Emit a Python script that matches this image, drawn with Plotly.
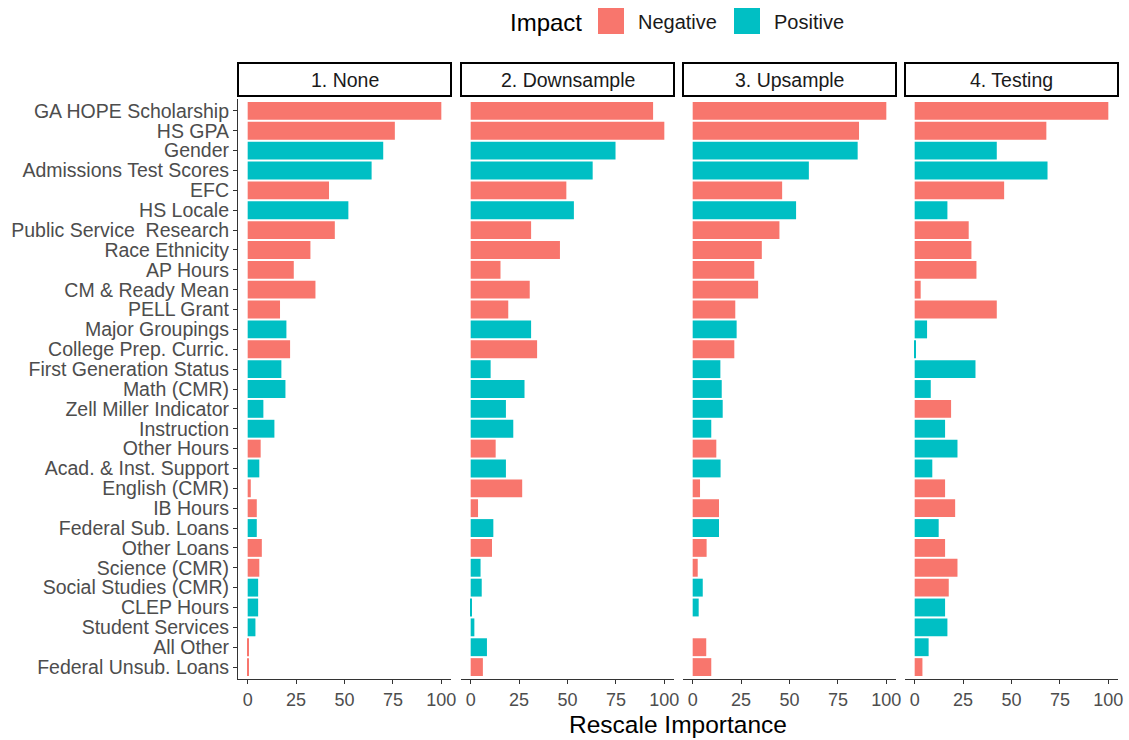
import plotly.graph_objects as go

# Variables, top to bottom
features = [
    "GA HOPE Scholarship", "HS GPA", "Gender", "Admissions Test Scores", "EFC",
    "HS Locale", "Public Service\u00a0 Research", "Race Ethnicity", "AP Hours",
    "CM & Ready Mean", "PELL Grant", "Major Groupings", "College Prep. Curric.",
    "First Generation Status", "Math (CMR)", "Zell Miller Indicator", "Instruction",
    "Other Hours", "Acad. & Inst. Support", "English (CMR)", "IB Hours",
    "Federal Sub. Loans", "Other Loans", "Science (CMR)", "Social Studies (CMR)",
    "CLEP Hours", "Student Services", "All Other", "Federal Unsub. Loans",
]

panels = ["1. None", "2. Downsample", "3. Upsample", "4. Testing"]

# Rescaled importance per model
imp_none = [100, 76, 70, 64, 42, 52, 45, 32.4, 23.8, 35, 16.7, 20, 21.9, 17.4, 19.5,
            8.1, 13.8, 6.7, 6.0, 1.6, 4.7, 4.7, 7.3, 6.0, 5.4, 5.4, 4.0, 0.5, 0.5]
imp_down = [94.2, 100, 74.8, 63, 49.4, 53.3, 31.2, 46.1, 15.4, 30.5, 19.4, 31.2, 34.3,
            10.3, 27.8, 18.2, 22, 12.9, 18.2, 26.6, 3.8, 11.7, 11, 5.1, 5.7, 0.5, 1.9,
            8.4, 6.3]
imp_up = [100, 85.9, 85.2, 60, 46.2, 53.4, 44.8, 35.7, 31.8, 33.8, 22, 22.7, 21.5,
          14.3, 15, 15.5, 9.6, 12.2, 14.4, 3.8, 13.6, 13.6, 7.2, 2.6, 5.2, 3.1, 0,
          7, 9.6]
imp_test = [100, 68, 42.4, 68.6, 46.2, 16.9, 27.9, 29.3, 31.9, 3.1, 42.4, 6.4, 0.5,
            31.4, 8.3, 18.8, 15.7, 22.1, 9.1, 15.7, 20.9, 12.4, 15.7, 22.1, 17.6, 15.7,
            16.9, 7.2, 4]

# Direction of effect per model: N = Negative, P = Positive
dir_none = ["N", "N", "P", "P", "N", "P", "N", "N", "N", "N", "N", "P", "N", "P", "P",
            "P", "P", "N", "P", "N", "N", "P", "N", "N", "P", "P", "P", "N", "N"]
dir_down = ["N", "N", "P", "P", "N", "P", "N", "N", "N", "N", "N", "P", "N", "P", "P",
            "P", "P", "N", "P", "N", "N", "P", "N", "P", "P", "P", "P", "P", "N"]
dir_up = ["N", "N", "P", "P", "N", "P", "N", "N", "N", "N", "N", "P", "N", "P", "P",
          "P", "P", "N", "P", "N", "N", "P", "N", "N", "P", "P", "P", "N", "N"]
dir_test = ["N", "N", "P", "P", "N", "P", "N", "N", "N", "N", "N", "P", "P", "P", "P",
            "N", "P", "P", "P", "N", "N", "P", "N", "N", "N", "P", "P", "P", "N"]

x_ticks = [0, 25, 50, 75, 100]

NEG = "#F8766D"
POS = "#00BFC4"
colour = {"N": NEG, "P": POS}

W, H = 1129, 740
FONT = "Liberation Sans, Arial, sans-serif"

# panel placement in pixels
panel_px = [(238, 451), (461, 674), (683, 896), (905, 1118)]
plot_top, plot_bot = 99, 679
strip_top, strip_bot = 63, 96


def px_x(v):
    return v / W


def px_y(v):
    return 1 - v / H


fig = go.Figure()

series = [(imp_none, dir_none), (imp_down, dir_down), (imp_up, dir_up), (imp_test, dir_test)]
for i, (vals, dirs) in enumerate(series):
    xa = "x" if i == 0 else f"x{i + 1}"
    fig.add_trace(go.Bar(
        x=vals, y=features, orientation="h", width=0.9,
        marker=dict(color=[colour[d] for d in dirs], line=dict(width=0)),
        xaxis=xa, yaxis="y", showlegend=False,
    ))

layout = dict(
    width=W, height=H,
    margin=dict(l=0, r=0, t=0, b=0),
    paper_bgcolor="white", plot_bgcolor="white",
    font=dict(family=FONT, color="#4D4D4D"),
    bargap=0.1,
)

n = len(features)
layout["yaxis"] = dict(
    domain=[px_y(plot_bot), px_y(plot_top)],
    anchor="x",
    type="category",
    categoryorder="array", categoryarray=features,
    tickmode="array", tickvals=features, ticktext=features,
    range=[n - 1 + 0.6, -0.6],
    showgrid=False, zeroline=False,
    showline=True, linecolor="#333333", linewidth=1.1,
    ticks="outside", ticklen=4, tickcolor="#333333", tickwidth=1.1,
    tickfont=dict(size=19.5, color="#4D4D4D", family=FONT),
    automargin=False,
)

for i, (x0, x1) in enumerate(panel_px):
    key = "xaxis" if i == 0 else f"xaxis{i + 1}"
    layout[key] = dict(
        domain=[px_x(x0), px_x(x1)],
        anchor="y",
        range=[-5, 105],
        tickvals=x_ticks, ticktext=[str(t) for t in x_ticks],
        showgrid=False, zeroline=False,
        showline=True, linecolor="#333333", linewidth=1.1,
        ticks="outside", ticklen=4, tickcolor="#333333", tickwidth=1.1,
        tickfont=dict(size=18, color="#4D4D4D", family=FONT),
        automargin=False,
    )

fig.update_layout(**layout)

shapes = []
annotations = []
# facet strips
for (x0, x1), label in zip(panel_px, panels):
    shapes.append(dict(
        type="rect", xref="paper", yref="paper",
        x0=px_x(x0), x1=px_x(x1), y0=px_y(strip_bot), y1=px_y(strip_top),
        line=dict(color="black", width=2), fillcolor="white",
    ))
    annotations.append(dict(
        x=px_x((x0 + x1) / 2), y=px_y((strip_top + strip_bot) / 2 + 1),
        xref="paper", yref="paper", text=label, showarrow=False,
        xanchor="center", yanchor="middle",
        font=dict(size=19.5, color="#1A1A1A", family=FONT),
    ))

# x-axis title
annotations.append(dict(
    x=px_x(678), y=px_y(724), xref="paper", yref="paper",
    text="Rescale Importance", showarrow=False, xanchor="center", yanchor="middle",
    font=dict(size=24.5, color="black", family=FONT),
))

# legend (top centre)
legend_y = 22
annotations.append(dict(
    x=px_x(508), y=px_y(legend_y), xref="paper", yref="paper",
    text="Impact", showarrow=False, xanchor="left", yanchor="middle",
    font=dict(size=24, color="black", family=FONT),
))
for (sx0, sx1, tx, label, col) in [(598, 624, 636, "Negative", NEG),
                                   (734, 760, 772, "Positive", POS)]:
    shapes.append(dict(
        type="rect", xref="paper", yref="paper",
        x0=px_x(sx0), x1=px_x(sx1), y0=px_y(34), y1=px_y(8),
        line=dict(width=0), fillcolor=col,
    ))
    annotations.append(dict(
        x=px_x(tx), y=px_y(legend_y), xref="paper", yref="paper",
        text=label, showarrow=False, xanchor="left", yanchor="middle",
        font=dict(size=20, color="#1A1A1A", family=FONT),
    ))

fig.update_layout(shapes=shapes, annotations=annotations)

fig.write_html("out.html")
